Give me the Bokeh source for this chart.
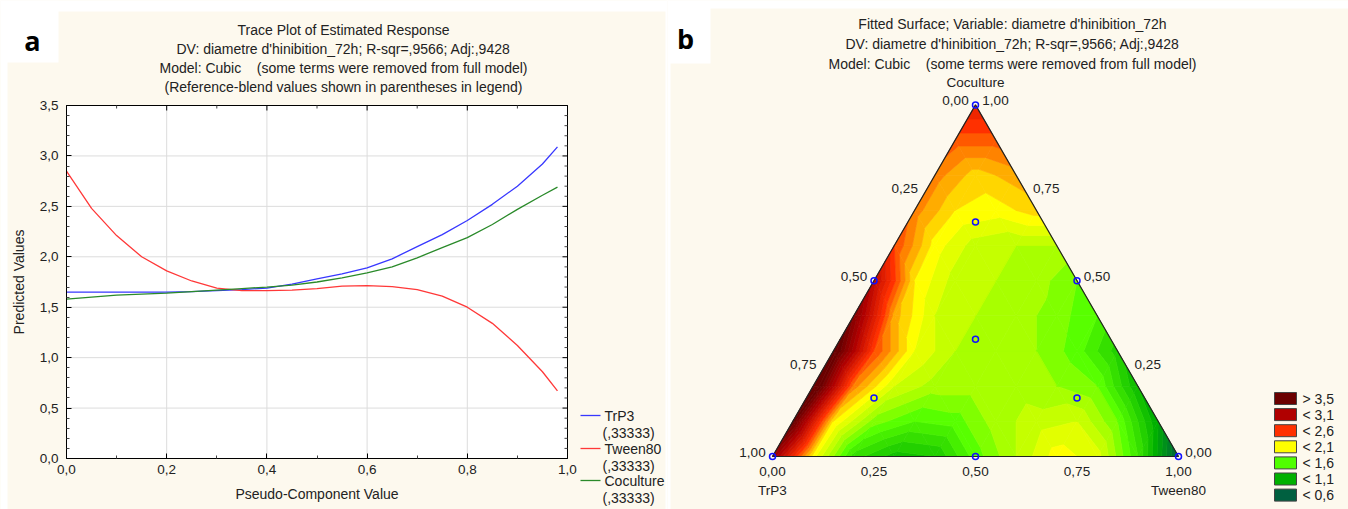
import math
from bokeh.plotting import figure
from bokeh.layouts import row
from bokeh.models import FixedTicker, CustomJSTickFormatter, LinearAxis, Range1d
from bokeh.core.properties import value
from bokeh.embed import file_html
from bokeh.resources import INLINE

CREAM = "#fdf9ee"
FONT = "Liberation Sans"
TXT = "#222222"

# ---------------- data: trace plot ----------------
pseudo = [0.0, 0.05, 0.10, 0.15, 0.20, 0.25, 0.30, 0.35, 0.40, 0.45, 0.50,
          0.55, 0.60, 0.65, 0.70, 0.75, 0.80, 0.85, 0.90, 0.95, 0.98]
trp3 = [1.65, 1.65, 1.65, 1.65, 1.65, 1.655, 1.665, 1.675, 1.69, 1.73, 1.78,
        1.83, 1.89, 1.98, 2.10, 2.22, 2.36, 2.52, 2.70, 2.92, 3.09]
tween80 = [2.85, 2.48, 2.21, 2.00, 1.86, 1.76, 1.69, 1.665, 1.665, 1.67, 1.685,
           1.71, 1.715, 1.705, 1.675, 1.61, 1.50, 1.34, 1.12, 0.86, 0.67]
coculture = [1.58, 1.60, 1.62, 1.63, 1.64, 1.655, 1.67, 1.685, 1.70, 1.72, 1.75,
             1.79, 1.84, 1.90, 1.99, 2.09, 2.19, 2.32, 2.47, 2.61, 2.69]
series_names = ["TrP3", "Tween80", "Coculture"]
series_ref = ["(,33333)", "(,33333)", "(,33333)"]
series_colors = ["#3838ff", "#ff3838", "#2a8a2a"]

x_major = [0.0, 0.2, 0.4, 0.6, 0.8, 1.0]
x_minor = [0.1, 0.3, 0.5, 0.7, 0.9]
y_major = [0.0, 0.5, 1.0, 1.5, 2.0, 2.5, 3.0, 3.5]
y_minor = [0.1, 0.2, 0.3, 0.4, 0.6, 0.7, 0.8, 0.9, 1.1, 1.2, 1.3, 1.4, 1.6, 1.7,
           1.8, 1.9, 2.1, 2.2, 2.3, 2.4, 2.6, 2.7, 2.8, 2.9, 3.1, 3.2, 3.3, 3.4]

# ---------------- data: ternary fitted surface ----------------
# rows: Coculture = 0.0 .. 1.0 ; within a row Tween80 = 0.0, 0.1, ... ; TrP3 = rest
surface_rows = [
    [3.20, 2.05, 1.35, 1.15, 1.20, 1.55, 1.80, 2.05, 1.95, 1.40, 0.55],
    [3.50, 2.10, 1.65, 1.50, 1.55, 1.75, 1.85, 1.90, 1.60, 1.00],
    [3.70, 2.35, 1.90, 1.75, 1.75, 1.75, 1.70, 1.60, 1.10],
    [3.60, 2.50, 2.00, 1.80, 1.75, 1.70, 1.55, 1.25],
    [3.30, 2.25, 1.90, 1.80, 1.75, 1.65, 1.50],
    [2.95, 2.10, 1.85, 1.80, 1.75, 1.60],
    [2.50, 2.05, 1.85, 1.80, 1.80],
    [2.35, 2.10, 2.05, 2.15],
    [2.35, 2.15, 2.25],
    [2.45, 2.45],
    [2.70],
]
contour_levels = [0.6, 0.7, 0.8, 0.9, 1.0, 1.1, 1.2, 1.3, 1.4, 1.5, 1.6, 1.7, 1.8,
                  1.9, 2.0, 2.1, 2.2, 2.3, 2.4, 2.5, 2.6, 2.7, 2.8, 2.9, 3.0, 3.1,
                  3.2, 3.3, 3.4, 3.5]
anchor_values = [0.6, 1.1, 1.6, 1.8, 2.1, 2.6, 3.1, 3.5]
anchor_colors = ["#006040", "#00b000", "#58ff00", "#a8ff00", "#ffff00", "#ff3000",
                 "#b00000", "#6b0000"]
legend_labels = ["> 3,5", "< 3,1", "< 2,6", "< 2,1", "< 1,6", "< 1,1", "< 0,6"]
legend_colors = ["#6b0000", "#b00000", "#ff3000", "#ffff00", "#50ff00", "#00b000", "#006040"]

# design points (TrP3, Tween80, Coculture)
design_trp3 = [1, 0, 0, 0.5, 0.5, 0, 1/3, 2/3, 1/6, 1/6]
design_tween = [0, 1, 0, 0.5, 0, 0.5, 1/3, 1/6, 2/3, 1/6]
design_cocul = [0, 0, 1, 0, 0.5, 0.5, 1/3, 1/6, 1/6, 2/3]
axis_fracs = [0.0, 0.25, 0.5, 0.75, 1.0]
axis_texts = ["0,00", "0,25", "0,50", "0,75", "1,00"]

NB = "\u00a0"
title_left = ["Trace Plot of Estimated Response",
              "DV: diametre d'hinibition_72h; R-sqr=,9566; Adj:,9428",
              "Model: Cubic" + NB * 4 + "(some terms were removed from full model)",
              "(Reference-blend values shown in parentheses in legend)"]
title_right = ["Fitted Surface; Variable: diametre d'hinibition_72h",
               "DV: diametre d'hinibition_72h; R-sqr=,9566; Adj:,9428",
               "Model: Cubic" + NB * 4 + "(some terms were removed from full model)"]

# ======================= LEFT: trace plot =======================
PX0, PX1 = 66.0, 567.0     # page px of x = 0 and x = 1
PY0, PYT = 458.0, 105.0    # page px of y = 0 and y = 3.5
SX = (PX1 - PX0) / 1.0
SY = (PY0 - PYT) / 3.5


def X(px):
    return (px - PX0) / SX


def Y(py):
    return (PY0 - py) / SY


p1 = figure(width=667, height=509, x_range=Range1d(X(0), X(667)),
            y_range=Range1d(Y(509), Y(0)), x_axis_type=None, y_axis_type=None,
            output_backend="svg", toolbar_location=None, min_border=0,
            border_fill_color=CREAM, background_fill_color=CREAM, outline_line_color=None)
p1.grid.visible = False
p1.title.visible = False

# white plotting area
p1.quad(left=[0], right=[1], bottom=[0], top=[3.5], fill_color="white", line_color=None)
# grid lines at the major ticks
p1.segment(x0=x_major, y0=[0] * len(x_major), x1=x_major, y1=[3.5] * len(x_major),
           line_color="#dcdcdc", line_width=1)
p1.segment(x0=[0] * len(y_major), y0=y_major, x1=[1] * len(y_major), y1=y_major,
           line_color="#dcdcdc", line_width=1)

for ys, col in zip([trp3, tween80, coculture], series_colors):
    p1.line(pseudo, ys, line_color=col, line_width=1.3)

fmt = CustomJSTickFormatter(code="return tick.toFixed(1).replace('.', ',');")
xax = LinearAxis(fixed_location=1e-9, bounds=(0, 1),
                 ticker=FixedTicker(ticks=x_major, minor_ticks=x_minor), formatter=fmt,
                 axis_label="Pseudo-Component Value")
yax = LinearAxis(fixed_location=1e-9, bounds=(0, 3.5),
                 ticker=FixedTicker(ticks=y_major, minor_ticks=y_minor), formatter=fmt,
                 axis_label="Predicted Values")
for ax in (xax, yax):
    ax.axis_line_color = "black"
    ax.major_tick_line_color = "black"
    ax.minor_tick_line_color = "#444444"
    ax.major_tick_in = 5
    ax.major_tick_out = 0
    ax.minor_tick_in = 3
    ax.minor_tick_out = 0
    ax.major_label_text_font = FONT
    ax.major_label_text_font_size = "13.5px"
    ax.major_label_text_color = TXT
    ax.axis_label_text_font = FONT
    ax.axis_label_text_font_size = "14px"
    ax.axis_label_text_font_style = "normal"
    ax.axis_label_text_color = TXT
xax.major_label_standoff = 6
xax.axis_label_standoff = 9
yax.major_label_standoff = 8
yax.axis_label_standoff = 10
p1.add_layout(xax, "below")
p1.add_layout(yax, "left")

# top and right frame with inward ticks
p1.segment(x0=[0, 1], y0=[3.5, 0], x1=[1, 1], y1=[3.5, 3.5], line_color="black", line_width=1)
p1.segment(x0=x_major, y0=[3.5] * len(x_major), x1=x_major,
           y1=[3.5 - 5 / SY] * len(x_major), line_color="black", line_width=1)
p1.segment(x0=x_minor, y0=[3.5] * len(x_minor), x1=x_minor,
           y1=[3.5 - 3 / SY] * len(x_minor), line_color="#444444", line_width=1)
p1.segment(x0=[1] * len(y_major), y0=y_major, x1=[1 - 5 / SX] * len(y_major), y1=y_major,
           line_color="black", line_width=1)
p1.segment(x0=[1] * len(y_minor), y0=y_minor, x1=[1 - 3 / SX] * len(y_minor), y1=y_minor,
           line_color="#444444", line_width=1)

# titles
p1.text([X(343)] * 4, [Y(29), Y(48), Y(67), Y(86)], text=title_left, text_align="center",
        text_baseline="middle", text_font=value(FONT), text_font_size="14px",
        text_color=TXT)

# legend
leg_y = [415, 448, 480]
p1.segment(x0=[X(580)] * 3, y0=[Y(v) for v in leg_y], x1=[X(600)] * 3,
           y1=[Y(v) for v in leg_y], line_color=series_colors, line_width=1.3)
p1.text([X(604)] * 3, [Y(v) for v in leg_y], text=series_names, text_align="left",
        text_baseline="middle", text_font=value(FONT), text_font_size="14px",
        text_color=TXT)
p1.text([X(602)] * 3, [Y(v + 17) for v in leg_y], text=series_ref, text_align="left",
        text_baseline="middle", text_font=value(FONT), text_font_size="14px",
        text_color=TXT)

# white page margins and the panel tag box
wl, wr, wt, wb = [0, 0, 0, 665], [667, 7, 58, 667], [0, 0, 0, 0], [11, 509, 62, 509]
p1.quad(left=[X(v) for v in wl], right=[X(v) for v in wr], top=[Y(v) for v in wt],
        bottom=[Y(v) for v in wb], fill_color="white", line_color=None)
p1.text([X(32)], [Y(40)], text=["a"], text_align="center", text_baseline="middle",
        text_font=value("Open Sans"), text_font_style="bold", text_font_size="27px",
        text_color="black")

# ======================= RIGHT: ternary surface =======================
S = 406.0               # triangle side in px
OX, OY = 772.0, 456.0   # page px of the TrP3 vertex
LEFT0 = 667.0


def dx(px):
    return (px - OX) / S


def dy(py):
    return (OY - py) / S


p2 = figure(width=681, height=509, x_range=Range1d(dx(LEFT0), dx(LEFT0 + 681)),
            y_range=Range1d(dy(509), dy(0)), x_axis_type=None, y_axis_type=None,
            output_backend="svg", toolbar_location=None, min_border=0,
            border_fill_color=CREAM, background_fill_color=CREAM, outline_line_color=None)
p2.grid.visible = False
p2.title.visible = False

H = math.sqrt(3) / 2


def tern(b, c):
    return b + c / 2.0, c * H


def hexcol(h):
    return tuple(int(h[i:i + 2], 16) for i in (1, 3, 5))


def color_at(v):
    if v <= anchor_values[0]:
        return anchor_colors[0]
    for k in range(len(anchor_values) - 1):
        v0, v1 = anchor_values[k], anchor_values[k + 1]
        if v <= v1 + 1e-9:
            t = (v - v0) / (v1 - v0)
            c0, c1 = hexcol(anchor_colors[k]), hexcol(anchor_colors[k + 1])
            return "#%02x%02x%02x" % tuple(int(round(a + (b_ - a) * t)) for a, b_ in zip(c0, c1))
    return anchor_colors[-1]


edges = [-10.0] + contour_levels + [10.0]
band_colors = []
for k in range(len(edges) - 1):
    up = edges[k + 1]
    band_colors.append(anchor_colors[-1] if up > 5 else color_at(up))

N = len(surface_rows) - 1
pts = {}
for j, rowv in enumerate(surface_rows):
    for i, v in enumerate(rowv):
        x, y = tern(i / N, j / N)
        pts[(i, j)] = (x, y, v)

tris = []
for j in range(N):
    for i in range(N - j):
        tris.append([pts[(i, j)], pts[(i + 1, j)], pts[(i, j + 1)]])
        if i + j <= N - 2:
            tris.append([pts[(i + 1, j)], pts[(i + 1, j + 1)], pts[(i, j + 1)]])


def cut(p, q, lev):
    t = (lev - p[2]) / (q[2] - p[2])
    return (p[0] + t * (q[0] - p[0]), p[1] + t * (q[1] - p[1]), lev)


def clip(poly, lev, above):
    out = []
    n = len(poly)
    for k in range(n):
        p, q = poly[k], poly[(k + 1) % n]
        pin = p[2] >= lev if above else p[2] <= lev
        qin = q[2] >= lev if above else q[2] <= lev
        if pin and qin:
            out.append(q)
        elif pin and not qin:
            out.append(cut(p, q, lev))
        elif (not pin) and qin:
            out.append(cut(p, q, lev))
            out.append(q)
    return out


xs, ys, cols = [], [], []
for tri in tris:
    for k in range(len(edges) - 1):
        poly = clip(tri, edges[k], True)
        if len(poly) < 3:
            continue
        poly = clip(poly, edges[k + 1], False)
        if len(poly) < 3:
            continue
        xs.append([q[0] for q in poly])
        ys.append([q[1] for q in poly])
        cols.append(band_colors[k])

p2.patches(xs, ys, fill_color=cols, line_color=cols, line_width=0.7)

# triangle outline
tx = [tern(0, 0)[0], tern(1, 0)[0], tern(0, 1)[0], tern(0, 0)[0]]
ty = [tern(0, 0)[1], tern(1, 0)[1], tern(0, 1)[1], tern(0, 0)[1]]
p2.line(tx, ty, line_color="#222222", line_width=1.2)

# design points
dpx = [tern(b, c)[0] for b, c in zip(design_tween, design_cocul)]
dpy = [tern(b, c)[1] for b, c in zip(design_tween, design_cocul)]
p2.scatter(dpx, dpy, marker="circle", size=6, fill_color=None, line_color="#1010ff",
           line_width=1.5)

# axis labels
off = 20.0 / S
lab_x, lab_y, lab_t = [], [], []
for f, t in zip(axis_fracs, axis_texts):
    x, y = tern(f, 0)                      # bottom axis: Tween80 fraction
    lab_x.append(x); lab_y.append(y - 15.0 / S); lab_t.append(t)
    x, y = tern(0, 1 - f)                  # left axis: TrP3 fraction
    lab_x.append(x - off); lab_y.append(y + 4.0 / S); lab_t.append(t)
    x, y = tern(1 - f, f)                  # right axis: Coculture fraction
    lab_x.append(x + off); lab_y.append(y + 4.0 / S); lab_t.append(t)
p2.text(lab_x, lab_y, text=lab_t, text_align="center", text_baseline="middle",
        text_font=value(FONT), text_font_size="13.5px", text_color=TXT)

vx0, vy0 = tern(0, 0)
vx1, vy1 = tern(1, 0)
vx2, vy2 = tern(0, 1)
p2.text([vx0, vx1, vx2], [vy0 - 34.0 / S, vy1 - 34.0 / S, vy2 + 22.0 / S],
        text=["TrP3", "Tween80", "Coculture"], text_align="center", text_baseline="middle",
        text_font=value(FONT), text_font_size="13.5px", text_color=TXT)

p2.text([dx(1012)] * 3, [dy(23), dy(43), dy(63)], text=title_right, text_align="center",
        text_baseline="middle", text_font=value(FONT), text_font_size="14px",
        text_color=TXT)

# colour legend
leg_top = [dy(392 + 16.1 * k) for k in range(len(legend_labels))]
leg_bot = [dy(404 + 16.1 * k) for k in range(len(legend_labels))]
p2.quad(left=[dx(1274)] * 7, right=[dx(1296)] * 7, top=leg_top, bottom=leg_bot,
        fill_color=legend_colors, line_color="#444444", line_width=1)
p2.text([dx(1302)] * 7, [(a + b) / 2 for a, b in zip(leg_top, leg_bot)], text=legend_labels,
        text_align="left", text_baseline="middle", text_font=value(FONT),
        text_font_size="14px", text_color=TXT)

# white page margins and the panel tag box
rl, rr, rt, rb = [667, 667, 667], [1348, 670, 710], [0, 0, 0], [8, 509, 63]
p2.quad(left=[dx(v) for v in rl], right=[dx(v) for v in rr], top=[dy(v) for v in rt],
        bottom=[dy(v) for v in rb], fill_color="white", line_color=None)
p2.text([dx(685)], [dy(38)], text=["b"], text_align="center", text_baseline="middle",
        text_font=value("Open Sans"), text_font_style="bold", text_font_size="27px",
        text_color="black")

layout = row(p1, p2)
open("out.html", "w").write(file_html(layout, INLINE))
